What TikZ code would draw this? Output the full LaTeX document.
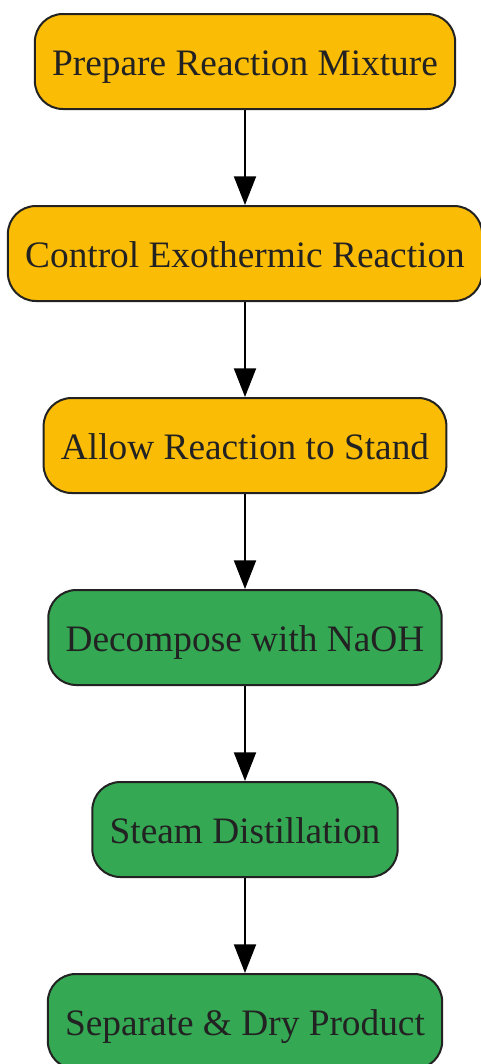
\documentclass[tikz,border=0pt]{standalone}
\usepackage{fontspec}
\setmainfont{Liberation Serif}
\usetikzlibrary{arrows.meta}
\definecolor{stepyellow}{HTML}{FBBC05}
\definecolor{stepgreen}{HTML}{34A853}
\definecolor{stepline}{HTML}{222222}

\begin{document}
\begin{tikzpicture}[x=0.75pt, y=-0.75pt,
    stepbox/.style={draw=stepline, line width=1.5pt, rounded corners=21pt,
        minimum height=71.25pt, inner xsep=13pt, text=stepline,
        text height=22pt, text depth=1.75pt,
        font=\fontsize{28}{34}\selectfont},
    prepbox/.style={stepbox, fill=stepyellow},
    workbox/.style={stepbox, fill=stepgreen},
    flow/.style={line width=1.5pt, black, -{Triangle[length=21.5pt, width=16.5pt]}}]
            \useasboundingbox (0,0) rectangle (480,1064);

            \node[prepbox] (prepare)   at (245,  61.5)  {Prepare Reaction Mixture};
            \node[prepbox] (control)   at (245, 253.5)  {Control Exothermic Reaction};
            \node[prepbox] (stand)     at (245, 445.5)  {Allow Reaction to Stand};
            \node[workbox] (decompose) at (245, 637.5)  {Decompose with NaOH};
            \node[workbox] (steam)     at (245, 829.5)  {Steam Distillation};
            \node[workbox] (separate)  at (245, 1021.5) {Separate \& Dry Product};

            \draw[flow] (prepare)   -- (control);
            \draw[flow] (control)   -- (stand);
            \draw[flow] (stand)     -- (decompose);
            \draw[flow] (decompose) -- (steam);
            \draw[flow] (steam)     -- (separate);
        \end{tikzpicture}
\end{document}
